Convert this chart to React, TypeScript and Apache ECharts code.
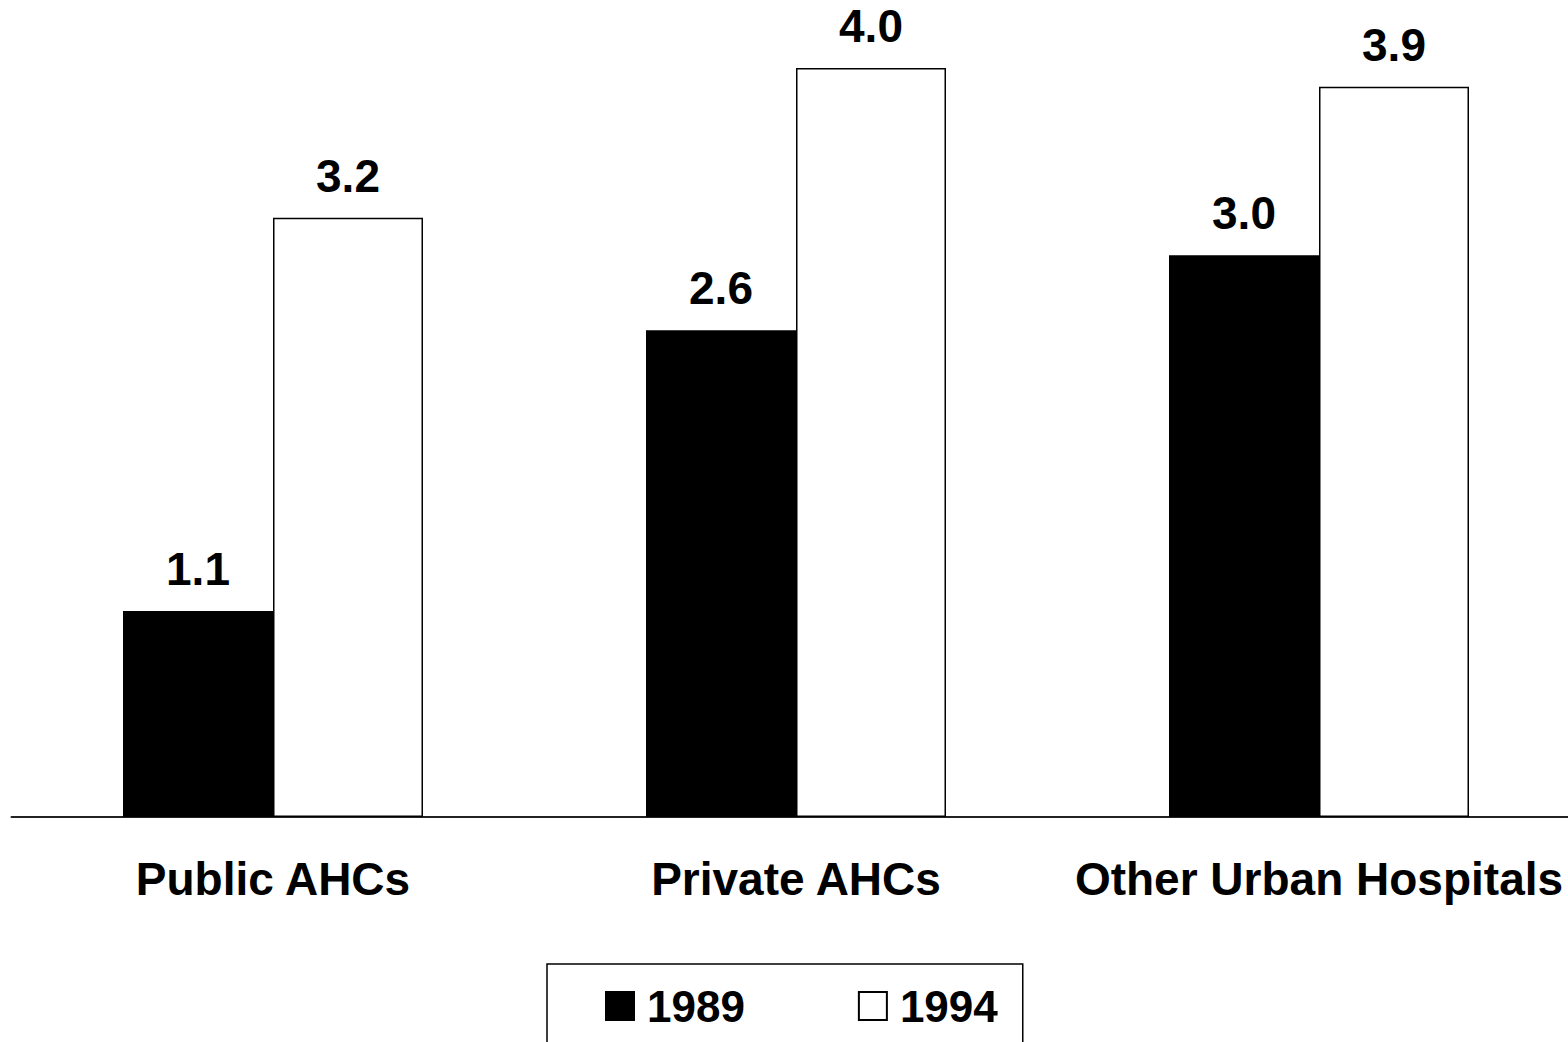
import React, { useEffect, useRef } from "react";
import * as echarts from "echarts";

const categories = ["Public AHCs", "Private AHCs", "Other Urban Hospitals"];
const values1989 = [1.1, 2.6, 3.0];
const values1994 = [3.2, 4.0, 3.9];
const seriesNames = ["1989", "1994"];

const FONT = "'Liberation Sans', Arial, sans-serif";

export default function App() {
  const ref = useRef<HTMLDivElement>(null);
  useEffect(() => {
    if (!ref.current) return;
    const chart = echarts.init(ref.current, undefined, { renderer: "svg" });
    const label = {
      show: true,
      position: "top",
      distance: 19,
      color: "#000",
      fontSize: 46,
      fontWeight: "bold",
      fontFamily: FONT,
      formatter: (p: any) => Number(p.value).toFixed(1),
    };
    chart.setOption({
      animation: false,
      backgroundColor: "#fff",
      grid: { left: 11.5, top: 68, width: 1569, height: 749, containLabel: false },
      xAxis: {
        type: "category",
        data: categories,
        axisLine: { show: true, lineStyle: { color: "#222", width: 2 } },
        axisTick: { show: false },
        axisLabel: {
          margin: 39,
          color: "#000",
          fontSize: 46,
          fontWeight: "bold",
          fontFamily: FONT,
          interval: 0,
        },
      },
      yAxis: {
        type: "value",
        min: 0,
        max: 4,
        show: false,
        splitLine: { show: false },
      },
      legend: {
        left: 547,
        top: 964,
        orient: "horizontal",
        icon: "rect",
        itemWidth: 28,
        itemHeight: 28,
        itemGap: 113,
        padding: [20, 25, 40, 58],
        borderColor: "#000",
        borderWidth: 1.5,
        backgroundColor: "#fff",
        data: seriesNames,
        textStyle: {
          color: "#000",
          fontSize: 44,
          fontWeight: "bold",
          fontFamily: FONT,
          padding: [0, 0, 0, 8],
        },
      },
      series: [
        {
          name: seriesNames[0],
          type: "bar",
          data: values1989,
          barWidth: 150,
          barGap: "0%",
          itemStyle: { color: "#000", borderColor: "#000", borderWidth: 1.5 },
          label,
        },
        {
          name: seriesNames[1],
          type: "bar",
          data: values1994,
          barWidth: 150,
          barGap: "0%",
          itemStyle: { color: "#fff", borderColor: "#000", borderWidth: 1.5 },
          label,
        },
      ],
    });
    return () => chart.dispose();
  }, []);
  return (
    <div style={{ position: "fixed", left: 0, top: 0, width: 1568, height: 1042, overflow: "hidden" }}>
      <div ref={ref} style={{ position: "absolute", left: 0, top: 0, width: 1600, height: 1042 }} />
    </div>
  );
}
